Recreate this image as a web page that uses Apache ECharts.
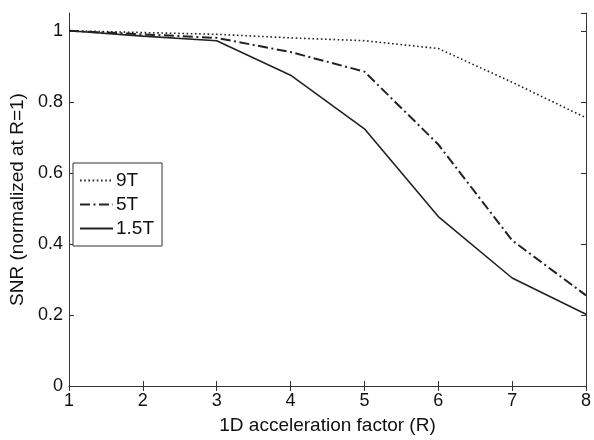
<!DOCTYPE html>
<html><head><meta charset="utf-8">
<script src="https://cdn.jsdelivr.net/npm/echarts@6/dist/echarts.min.js"></script>
<style>html,body{margin:0;padding:0;background:#fff}#c{width:594px;height:440px}</style>
</head><body><div id="c"></div>
<script>
const xValues = [1, 2, 3, 4, 5, 6, 7, 8];
const snr9T = [1, 0.995, 0.99, 0.98, 0.972, 0.95, 0.855, 0.755];
const snr5T = [1, 0.99, 0.98, 0.94, 0.885, 0.68, 0.41, 0.255];
const snr15T = [1, 0.985, 0.972, 0.875, 0.724, 0.477, 0.304, 0.202];
const seriesNames = ['9T', '5T', '1.5T'];
const yTicks = [0, 0.2, 0.4, 0.6, 0.8, 1];

const font = 'Liberation Sans, Arial, Helvetica, sans-serif';
const axisColor = '#333';
const textColor = '#111';
const pairs = a => xValues.map((x, i) => [x, a[i]]);

const chart = echarts.init(document.getElementById('c'), null, {renderer: 'canvas'});
const tickStyle = {show: true, inside: true, length: 5, lineStyle: {color: axisColor, width: 1}};
chart.setOption({
  animation: false,
  backgroundColor: '#fff',
  grid: {left: 69, right: 4, top: 13, bottom: 48, containLabel: false},
  xAxis: [{
    type: 'value', min: 1, max: 8, interval: 1,
    name: '1D acceleration factor (R)', nameLocation: 'middle', nameGap: 30,
    nameTextStyle: {fontFamily: font, fontSize: 19, color: textColor},
    axisLine: {show: true, lineStyle: {color: axisColor, width: 1}},
    axisTick: tickStyle,
    axisLabel: {fontFamily: font, fontSize: 18, color: textColor, margin: 6},
    splitLine: {show: false}
  }, {
    type: 'value', min: 1, max: 8, interval: 1, position: 'top',
    axisLine: {show: true, lineStyle: {color: axisColor, width: 1}},
    axisTick: tickStyle, axisLabel: {show: false}, splitLine: {show: false}
  }],
  yAxis: [{
    type: 'value', min: 0, max: 1.05, interval: 0.2,
    name: 'SNR (normalized at R=1)', nameLocation: 'middle', nameGap: 33,
    nameTextStyle: {fontFamily: font, fontSize: 19, color: textColor},
    axisLine: {show: true, lineStyle: {color: axisColor, width: 1}},
    axisTick: tickStyle,
    axisLabel: {fontFamily: font, fontSize: 18, color: textColor, margin: 6, showMaxLabel: false,
      formatter: v => yTicks.some(t => Math.abs(t - v) < 1e-9) ? String(+v.toFixed(1)) : ''},
    splitLine: {show: false}
  }, {
    type: 'value', min: 0, max: 1.05, interval: 0.2, position: 'right',
    axisLine: {show: true, lineStyle: {color: axisColor, width: 1}},
    axisTick: tickStyle, axisLabel: {show: false}, splitLine: {show: false}
  }],
  legend: {
    orient: 'vertical', left: 73, top: 163,
    data: seriesNames,
    backgroundColor: '#fff', borderColor: axisColor, borderWidth: 1, borderRadius: 0,
    padding: [8, 8, 8, 6], itemGap: 5, itemWidth: 33, itemHeight: 18,
    itemStyle: {color: 'rgba(0,0,0,0)', borderWidth: 0, opacity: 0},
    textStyle: {fontFamily: font, fontSize: 19, color: textColor, padding: [0, 0, 0, -2]}
  },
  series: [
    {name: '9T', type: 'line', data: pairs(snr9T), symbol: 'none', z: 3,
     lineStyle: {color: '#222', width: 1.6, type: [1.6, 2.6]}, itemStyle: {color: '#222'}},
    {name: '5T', type: 'line', data: pairs(snr5T), symbol: 'none', z: 3,
     lineStyle: {color: '#222', width: 2, type: [10, 3.5, 2, 3.5]}, itemStyle: {color: '#222'}},
    {name: '1.5T', type: 'line', data: pairs(snr15T), symbol: 'none', z: 3,
     lineStyle: {color: '#222', width: 1.6, type: 'solid'}, itemStyle: {color: '#222'}}
  ]
});
</script></body></html>
